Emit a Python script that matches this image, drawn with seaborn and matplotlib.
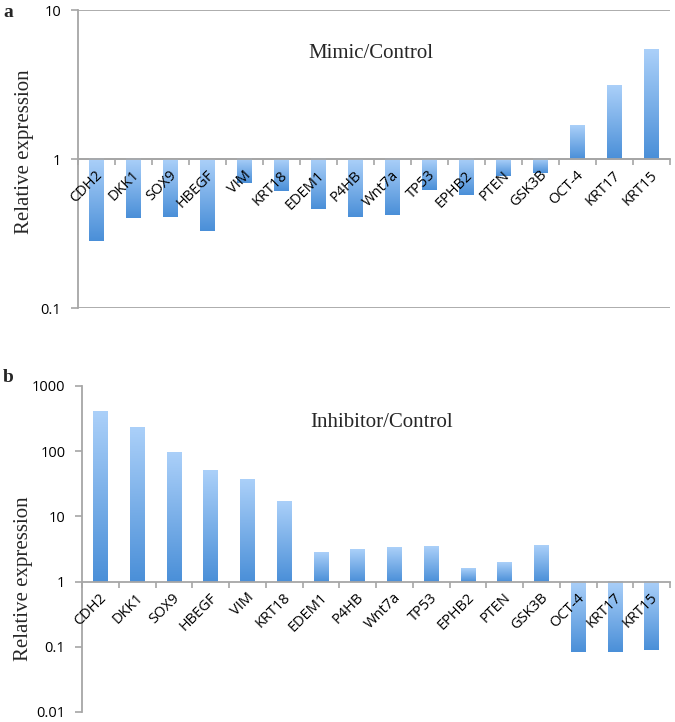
import numpy as np
import pandas as pd
import matplotlib
matplotlib.use("Agg")
import matplotlib.pyplot as plt
import seaborn as sns
from matplotlib.colors import LinearSegmentedColormap

# ── data (relative expression, log scale) ─────────────────────────────────
genes = ["CDH2", "DKK1", "SOX9", "HBEGF", "VIM", "KRT18", "EDEM1", "P4HB",
         "Wnt7a", "TP53", "EPHB2", "PTEN", "GSK3B", "OCT-4", "KRT17", "KRT15"]
mimic = [0.28, 0.40, 0.41, 0.33, 0.69, 0.61, 0.46, 0.41,
         0.42, 0.62, 0.57, 0.77, 0.80, 1.69, 3.1, 5.4]
inhibitor = [410, 231, 96, 52, 37, 17, 2.8, 3.2,
             3.4, 3.5, 1.6, 2.0, 3.6, 0.082, 0.082, 0.089]

mimic_decades = (-1, 1)
inhibitor_decades = (-2, 3)

sns.set_theme(style="white")
plt.rcParams["font.family"] = ["Open Sans", "DejaVu Sans"]

GREY = "#a6a6a6"
bar_cmap = LinearSegmentedColormap.from_list("bar", ["#4a8fd8", "#abd0f9"])
gradient = np.linspace(0, 1, 256).reshape(-1, 1)


def fmt_tick(k):
    v = 10.0 ** k
    return f"{v:g}"


def draw_panel(ax, values, decades, grid):
    df = pd.DataFrame({"gene": genes, "log": np.log10(values)})
    sns.barplot(data=df, x="gene", y="log", color="#4a8fd8", width=0.4,
                saturation=1, ax=ax)

    # replace flat fill by a vertical gradient (light on top)
    for p in ax.patches:
        x0, w = p.get_x(), p.get_width()
        y0, h = p.get_y(), p.get_height()
        yb, yt = min(y0, y0 + h), max(y0, y0 + h)
        ax.imshow(gradient, cmap=bar_cmap, origin="lower", aspect="auto",
                  extent=[x0, x0 + w, yb, yt], zorder=2)
        p.set_facecolor("none")
        p.set_edgecolor("none")

    lo, hi = decades
    ax.set_xlim(-0.5, len(genes) - 0.5)
    ax.set_ylim(lo, hi)
    ax.set_yticks(range(lo, hi + 1))
    ax.set_yticklabels([fmt_tick(k) for k in range(lo, hi + 1)])
    ax.set_xticks(np.arange(-0.5, len(genes), 1.0))
    ax.set_xticklabels([])
    ax.set_xlabel("")
    ax.set_ylabel("")

    for s in ["top", "right"]:
        ax.spines[s].set_visible(False)
    ax.spines["left"].set_color(GREY)
    ax.spines["left"].set_linewidth(1.3)
    ax.spines["bottom"].set_color(GREY)
    ax.spines["bottom"].set_linewidth(1.3)
    ax.spines["bottom"].set_position(("data", 0))
    ax.tick_params(axis="x", direction="out", length=4, width=1.2,
                   color=GREY, bottom=True)
    ax.tick_params(axis="y", direction="out", length=5, width=1.2,
                   color=GREY, left=True, labelsize=10.5, pad=7,
                   labelcolor="black")

    if grid:
        ax.grid(axis="y", color=GREY, linewidth=1.3)
        ax.set_axisbelow(True)

    for i, g in enumerate(genes):
        ax.annotate(g, xy=(i, 0), xytext=(4, -14), textcoords="offset pixels",
                    rotation=45, ha="right", va="center",
                    rotation_mode="anchor", fontsize=10.5, color="black",
                    zorder=5)


fig = plt.figure(figsize=(6.75, 7.22), dpi=100)
ax_a = fig.add_axes([0.1156, 0.5734, 0.877, 0.4127])
ax_b = fig.add_axes([0.1215, 0.0139, 0.8711, 0.4515])

draw_panel(ax_a, mimic, mimic_decades, grid=True)
draw_panel(ax_b, inhibitor, inhibitor_decades, grid=False)

W, H = 675, 722
serif = ["Liberation Serif", "DejaVu Serif"]
fig.text(371 / W, 1 - 53 / H, "Mimic/Control", family=serif, fontsize=15,
         ha="center", va="center")
fig.text(382 / W, 1 - 423 / H, "Inhibitor/Control", family=serif, fontsize=15,
         ha="center", va="center")
fig.text(25 / W, 1 - 152 / H, "Relative expression", family=serif,
         fontsize=15, rotation=90, ha="center", va="center")
fig.text(24 / W, 1 - 579 / H, "Relative expression", family=serif,
         fontsize=15, rotation=90, ha="center", va="center")
fig.text(3 / W, 1 - 4 / H, "a", family=serif, fontsize=14, fontweight="bold",
         ha="left", va="top")
fig.text(3 / W, 1 - 369 / H, "b", family=serif, fontsize=14, fontweight="bold",
         ha="left", va="top")

fig.savefig("out.png", dpi=100)
